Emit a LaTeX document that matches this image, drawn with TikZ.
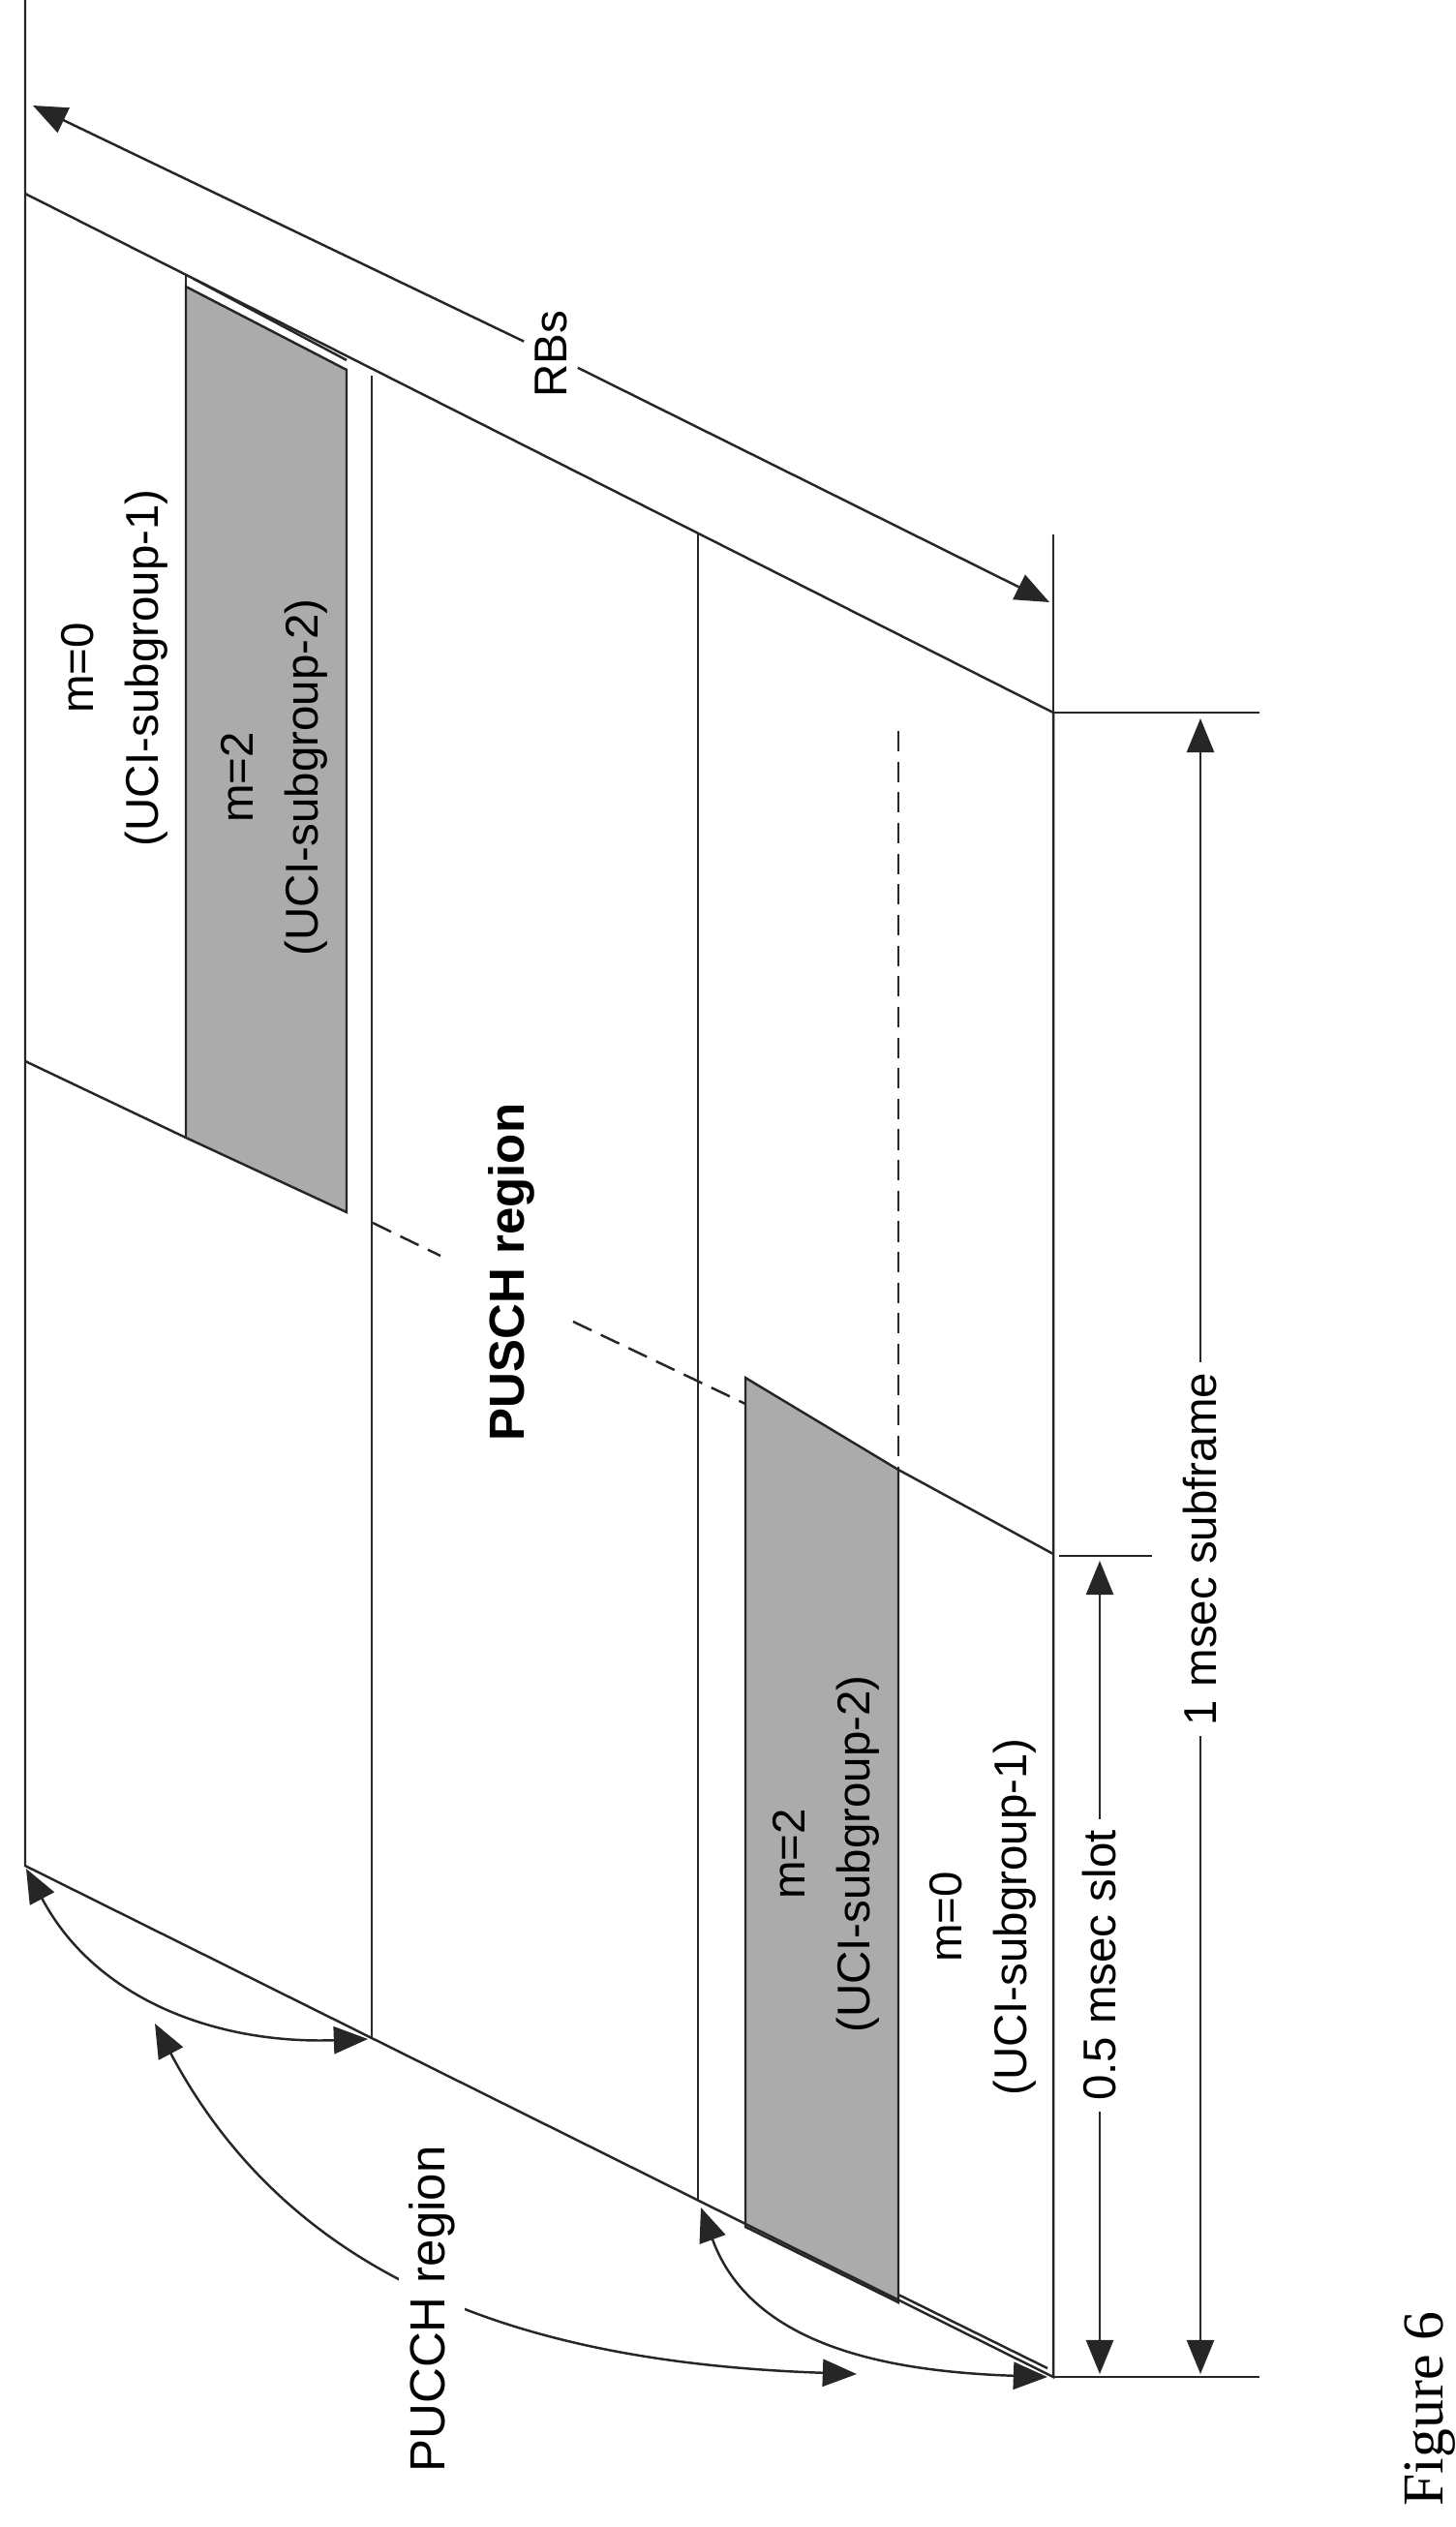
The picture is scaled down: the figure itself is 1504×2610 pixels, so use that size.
\documentclass[tikz,border=0pt]{standalone}
\usepackage{fontspec}
\setmainfont{Liberation Sans}
\newfontfamily\figfont{Liberation Serif}
\usetikzlibrary{arrows.meta}
\tikzset{
  ln/.style={line width=0.7pt, black!85},
  dsh/.style={ln, dash pattern=on 6pt off 3pt},
  tri/.style={-{Triangle[length=10pt,width=8pt]}},
  dbl/.style={{Triangle[length=10pt,width=8pt]}-{Triangle[length=10pt,width=8pt]}},
  lbl/.style={font=\fontsize{13.5}{19}\selectfont, rotate=90, align=center, inner sep=1pt},
  gap/.style={lbl, fill=white, inner sep=3pt}
}
\begin{document}
\begin{tikzpicture}[x=0.01cm, y=-0.01cm]
\useasboundingbox (0,0) rectangle (1504,2610);
% frame corners
\coordinate (L0) at (26,0);
\coordinate (TL) at (26,200);
\coordinate (TR) at (1088,736);
\coordinate (SL) at (26,1096);
\coordinate (SR) at (1088,1605);
\coordinate (BL) at (26,1927);
\coordinate (BR) at (1088,2455);
% grey blocks
\coordinate (g1a) at (192,296);
\coordinate (g1b) at (358,382);
\coordinate (g1c) at (358,1252);
\coordinate (g1d) at (192,1175);
\coordinate (g2a) at (770,1423);
\coordinate (g2b) at (928,1518);
\coordinate (g2c) at (928,2378);
\coordinate (g2d) at (770,2300);
\fill[black!33] (g1a) -- (g1b) -- (g1c) -- (g1d) -- cycle;
\fill[black!33] (g2a) -- (g2b) -- (g2c) -- (g2d) -- cycle;
\draw[ln] (g1a) -- (g1b) -- (g1c) -- (g1d) -- cycle;
\draw[ln] (g2a) -- (g2b) -- (g2c) -- (g2d) -- cycle;
% outline
\draw[ln] (L0) -- (BL) -- (BR) -- (TR) -- (TL);
% slot boundary
\coordinate (s2) at (385,1263);
\coordinate (s3) at (455,1297);
\coordinate (s4) at (592,1365);
\coordinate (s5) at (770,1450);
\draw[ln] (SL) -- (g1d);
\draw[dsh] (s2) -- (s3);
\draw[dsh] (s4) -- (s5);
\draw[ln] (g2b) -- (SR);
% verticals
\coordinate (v1t) at (192,283);
\draw[ln] (v1t) -- (g1a);
\coordinate (v2t) at (384,388);
\coordinate (v2b) at (384,2104);
\draw[ln] (v2t) -- (v2b);
\coordinate (v3t) at (721,551);
\coordinate (v3b) at (721,2272);
\draw[ln] (v3t) -- (v3b);
\coordinate (v4t) at (928,755);
\draw[dsh] (v4t) -- (g2b);
% double lines
\draw[ln] (200,288) -- (358,372);
\draw[ln] (928,2370) -- (1082,2446);
% RBs dimension
\coordinate (rb1) at (34,109);
\coordinate (rb2) at (1084,622);
\node[gap] (rbs) at (569,366) {RBs};
\draw[ln,tri] (rbs) -- (rb1);
\draw[ln,tri] (rbs) -- (rb2);
\coordinate (e1) at (1088,552);
\draw[ln] (e1) -- (TR);
\coordinate (h1) at (1301,736);
\draw[ln] (TR) -- (h1);
\coordinate (h2) at (1301,2455);
\draw[ln] (BR) -- (h2);
\coordinate (h3a) at (1094,1607);
\coordinate (h3b) at (1190,1607);
\draw[ln] (h3a) -- (h3b);
% 1 msec subframe
\coordinate (m1a) at (1240,742);
\coordinate (m1b) at (1240,2452);
\node[gap] (sub) at (1240,1600) {1 msec subframe};
\draw[ln,tri] (sub) -- (m1a);
\draw[ln,tri] (sub) -- (m1b);
% 0.5 msec slot
\coordinate (m2a) at (1136,1612);
\coordinate (m2b) at (1136,2452);
\node[gap] (slot) at (1136,2030) {0.5 msec slot};
\draw[ln,tri] (slot) -- (m2a);
\draw[ln,tri] (slot) -- (m2b);
% labels
\node[lbl] (u1) at (118,690) {m=0\\(UCI-subgroup-1)};
\node[lbl] (u2) at (283,803) {m=2\\(UCI-subgroup-2)};
\node[lbl, font=\fontsize{14.5}{19}\selectfont\bfseries] (pusch) at (528,1314) {PUSCH region};
\node[lbl] (l2) at (853,1915) {m=2\\(UCI-subgroup-2)};
\node[lbl] (l1) at (1015,1980) {m=0\\(UCI-subgroup-1)};
% PUCCH arcs
\coordinate (a1a) at (27,1930);
\coordinate (a1b) at (380,2106);
\draw[ln,dbl] (a1a) to[out=-62,in=182] (a1b);
\coordinate (a2a) at (160,2090);
\coordinate (a2b) at (885,2452);
\draw[ln,dbl] (a2a) to[out=-62,in=178] (a2b);
\node[gap, font=\fontsize{14.5}{19}\selectfont] (pucch) at (446,2385) {PUCCH region};
\coordinate (a3a) at (724,2280);
\coordinate (a3b) at (1082,2455);
\draw[ln,dbl] (a3a) to[out=-70,in=178] (a3b);
% figure caption
\node[rotate=90, font=\figfont\fontsize{17}{20}\selectfont] (fig) at (1477,2488) {Figure 6};
\end{tikzpicture}
\end{document}
